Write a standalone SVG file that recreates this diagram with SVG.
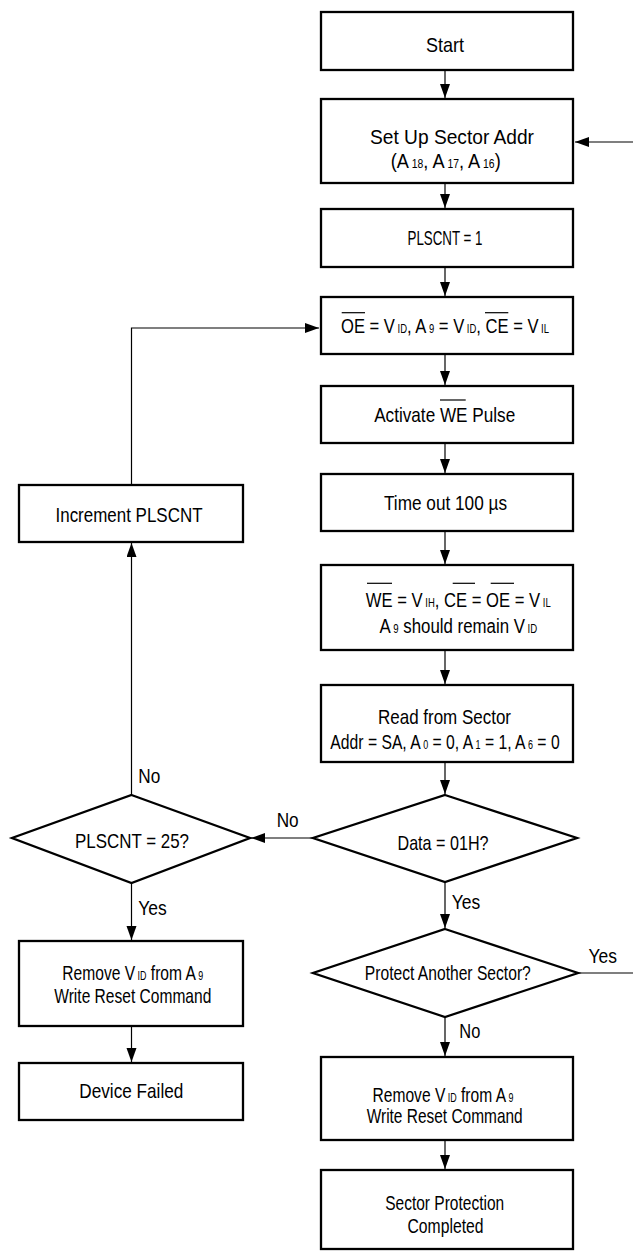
<svg xmlns="http://www.w3.org/2000/svg" width="633" height="1253" viewBox="0 0 633 1253">
<style>
.box{fill:#fff;stroke:#000;stroke-width:2.3}
.dia{fill:#fff;stroke:#000;stroke-width:2.3;stroke-linejoin:miter}
.conn{fill:none;stroke:#000;stroke-width:1.2}
.ov{stroke:#000;stroke-width:1.2}
text{font-family:"Liberation Sans",Arial,Helvetica,sans-serif;font-size:21px;fill:#000}
.c{text-anchor:middle}
.s{font-size:12px}
</style>
<defs>
<marker id="ah" markerUnits="userSpaceOnUse" markerWidth="15" markerHeight="11" refX="14" refY="5" orient="auto">
<path d="M0,0 L14,5 L0,10 z" fill="#000"/>
</marker>
</defs>
<rect x="0" y="0" width="633" height="1253" fill="#fff"/>

<g id="connectors">
<line class="conn" x1="445" y1="70" x2="445" y2="98" marker-end="url(#ah)"/>
<line class="conn" x1="445" y1="183" x2="445" y2="208" marker-end="url(#ah)"/>
<line class="conn" x1="445" y1="267" x2="445" y2="296" marker-end="url(#ah)"/>
<line class="conn" x1="445" y1="354" x2="445" y2="385" marker-end="url(#ah)"/>
<line class="conn" x1="445" y1="443" x2="445" y2="473" marker-end="url(#ah)"/>
<line class="conn" x1="445" y1="531" x2="445" y2="564" marker-end="url(#ah)"/>
<line class="conn" x1="445" y1="650" x2="445" y2="684" marker-end="url(#ah)"/>
<line class="conn" x1="445" y1="762" x2="445" y2="794" marker-end="url(#ah)"/>
<line class="conn" x1="445" y1="882" x2="445" y2="928" marker-end="url(#ah)"/>
<line class="conn" x1="445" y1="1017" x2="445" y2="1056" marker-end="url(#ah)"/>
<line class="conn" x1="445" y1="1140" x2="445" y2="1169" marker-end="url(#ah)"/>
<line class="conn" x1="313" y1="838" x2="251" y2="838" marker-end="url(#ah)"/>
<line class="conn" x1="131.5" y1="795" x2="131.5" y2="543" marker-end="url(#ah)"/>
<path class="conn" d="M131.5,485 V328 H319" marker-end="url(#ah)"/>
<line class="conn" x1="131.5" y1="883" x2="131.5" y2="940" marker-end="url(#ah)"/>
<line class="conn" x1="131.5" y1="1026" x2="131.5" y2="1062" marker-end="url(#ah)"/>
<path class="conn" d="M578,973 H640 V142 H575" marker-end="url(#ah)"/>
<text x="138.3" y="783.3" textLength="22" lengthAdjust="spacingAndGlyphs">No</text>
<text x="276.7" y="827.3" textLength="22" lengthAdjust="spacingAndGlyphs">No</text>
<text x="138.3" y="915" textLength="28.5" lengthAdjust="spacingAndGlyphs">Yes</text>
<text x="451.7" y="909.3" textLength="28.5" lengthAdjust="spacingAndGlyphs">Yes</text>
<text x="588.5" y="962.5" textLength="28.5" lengthAdjust="spacingAndGlyphs">Yes</text>
<text x="459.3" y="1038.3" textLength="21" lengthAdjust="spacingAndGlyphs">No</text>
</g>

<g id="start">
<rect class="box" x="321" y="12" width="252" height="58"/>
<text class="c" x="445" y="51.5" textLength="38" lengthAdjust="spacingAndGlyphs">Start</text>
</g>

<g id="setup">
<rect class="box" x="321" y="99" width="252" height="84"/>
<text class="c" x="452" y="144" textLength="164" lengthAdjust="spacingAndGlyphs">Set Up Sector Addr</text>
<text class="c" transform="translate(445.7,168) scale(0.866,1)">(A<tspan class="s"> 18</tspan>, A<tspan class="s"> 17</tspan>, A<tspan class="s"> 16</tspan>)</text>
</g>

<g id="plscnt1">
<rect class="box" x="321" y="209" width="252" height="58"/>
<text class="c" x="445" y="245" textLength="75" lengthAdjust="spacingAndGlyphs">PLSCNT = 1</text>
</g>

<g id="setlevels">
<rect class="box" x="321" y="297" width="252" height="57"/>
<text class="c" transform="translate(445,333.3) scale(0.79,1)">OE = V<tspan class="s"> ID</tspan>, A<tspan class="s"> 9</tspan> = V<tspan class="s"> ID</tspan>, CE = V<tspan class="s"> IL</tspan></text>
<line class="ov" x1="341.7" y1="312.7" x2="365" y2="312.7"/>
<line class="ov" x1="485" y1="312.7" x2="508.3" y2="312.7"/>
</g>

<g id="activate">
<rect class="box" x="321" y="386" width="252" height="57"/>
<text class="c" x="444.7" y="421.7" textLength="141" lengthAdjust="spacingAndGlyphs">Activate WE Pulse</text>
<line class="ov" x1="440" y1="400" x2="465.7" y2="400"/>
</g>

<g id="timeout">
<rect class="box" x="321" y="474" width="252" height="57"/>
<text class="c" x="445.5" y="510" textLength="123" lengthAdjust="spacingAndGlyphs">Time out 100 µs</text>
</g>

<g id="verify">
<rect class="box" x="321" y="565" width="252" height="85"/>
<text class="c" transform="translate(458.3,606.7) scale(0.792,1)">WE = V<tspan class="s"> IH</tspan>, CE = OE = V<tspan class="s"> IL</tspan></text>
<line class="ov" x1="367" y1="583.3" x2="392" y2="583.3"/>
<line class="ov" x1="452.7" y1="583.3" x2="475" y2="583.3"/>
<line class="ov" x1="490.7" y1="583.3" x2="514" y2="583.3"/>
<text class="c" transform="translate(458.3,632.7) scale(0.802,1)">A<tspan class="s"> 9</tspan> should remain V<tspan class="s"> ID</tspan></text>
</g>

<g id="read">
<rect class="box" x="321" y="685" width="252" height="77"/>
<text class="c" x="444.5" y="724" textLength="133" lengthAdjust="spacingAndGlyphs">Read from Sector</text>
<text class="c" transform="translate(445,749.3) scale(0.748,1)">Addr = SA, A<tspan class="s"> 0</tspan> = 0, A<tspan class="s"> 1</tspan> = 1, A<tspan class="s"> 6</tspan> = 0</text>
</g>

<g id="data">
<polygon class="dia" points="445,795 577,838 445,882 313,838"/>
<text class="c" x="443" y="850" textLength="91" lengthAdjust="spacingAndGlyphs">Data = 01H?</text>
</g>

<g id="plscnt25">
<polygon class="dia" points="131.5,795 250,838 131.5,883 12,838"/>
<text class="c" x="132" y="848.3" textLength="114" lengthAdjust="spacingAndGlyphs">PLSCNT = 25?</text>
</g>

<g id="increment">
<rect class="box" x="19" y="485" width="224" height="57"/>
<text class="c" x="129" y="521.7" textLength="147" lengthAdjust="spacingAndGlyphs">Increment PLSCNT</text>
</g>

<g id="removeleft">
<rect class="box" x="19" y="941" width="224" height="85"/>
<text class="c" transform="translate(132.8,980) scale(0.743,1)">Remove V<tspan class="s"> ID</tspan> from A<tspan class="s"> 9</tspan></text>
<text class="c" x="132.8" y="1003.3" textLength="157" lengthAdjust="spacingAndGlyphs">Write Reset Command</text>
</g>

<g id="failed">
<rect class="box" x="19" y="1063" width="224" height="57"/>
<text class="c" x="131.3" y="1098.3" textLength="104" lengthAdjust="spacingAndGlyphs">Device Failed</text>
</g>

<g id="another">
<polygon class="dia" points="445,929 578,973 445,1017 313,973"/>
<text class="c" x="447.8" y="980" textLength="166" lengthAdjust="spacingAndGlyphs">Protect Another Sector?</text>
</g>

<g id="removeright">
<rect class="box" x="321" y="1057" width="252" height="83"/>
<text class="c" transform="translate(443,1101.7) scale(0.743,1)">Remove V<tspan class="s"> ID</tspan> from A<tspan class="s"> 9</tspan></text>
<text class="c" x="444.7" y="1123.3" textLength="156" lengthAdjust="spacingAndGlyphs">Write Reset Command</text>
</g>

<g id="completed">
<rect class="box" x="321" y="1170" width="252" height="79"/>
<text class="c" x="444.7" y="1210" textLength="119" lengthAdjust="spacingAndGlyphs">Sector Protection</text>
<text class="c" x="445.5" y="1232.7" textLength="76" lengthAdjust="spacingAndGlyphs">Completed</text>
</g>
</svg>
